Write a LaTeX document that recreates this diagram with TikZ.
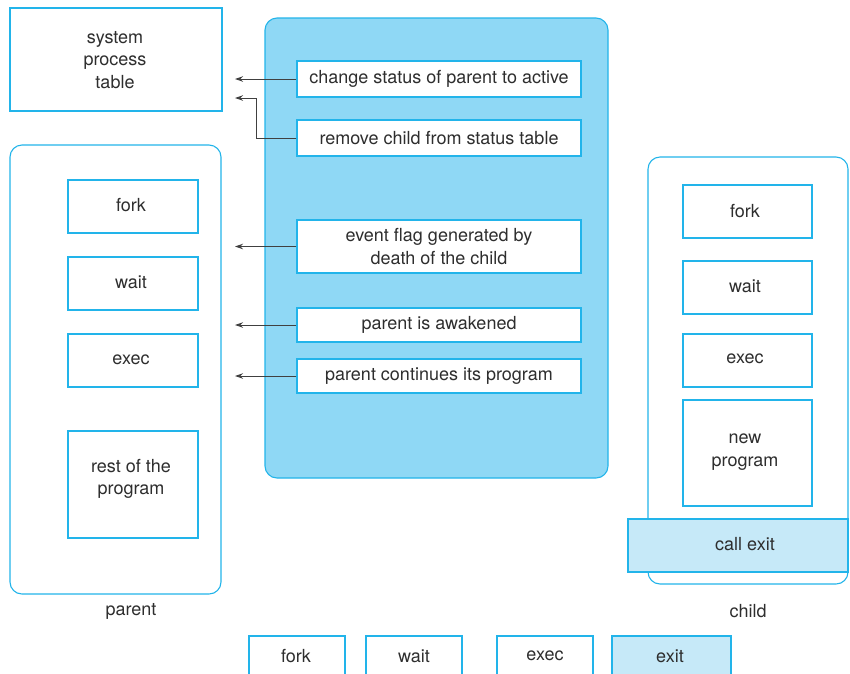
\documentclass[tikz,border=0pt]{standalone}
\usepackage{fontspec}
\setmainfont{TeX Gyre Heros}
\usepackage{xcolor}
\usepackage{tikz}
\usetikzlibrary{positioning,arrows.meta,calc}
\definecolor{edge}{HTML}{22B4EA}
\definecolor{kernel}{HTML}{8FD8F5}
\definecolor{exitfill}{HTML}{C6E9F8}
\definecolor{ink}{HTML}{2E2E2E}
\definecolor{wire}{HTML}{404040}

\begin{document}
\begin{tikzpicture}[
  x=1pt,y=-1pt,
  font=\fontsize{18}{22.5}\selectfont,
  text=ink,
  box/.style={draw=edge,fill=white,line width=1.1pt,align=center,inner sep=0pt},
  hold/.style={draw=edge,fill=white,line width=1.1pt,rounded corners=12pt,inner sep=0pt},
  sys/.style={box,fill=exitfill},
  a/.style={-{Stealth[length=8pt,width=5.5pt]},line width=1pt,wire}
]
\useasboundingbox (0,0) rectangle (850,673);

% system table and kernel panel
\node[box,minimum width=212,minimum height=103] (spt) at (116,59.5) {};
\node[align=center] at (115,60) {system\\process\\table};
\node[hold,fill=kernel,minimum width=343,minimum height=460] (kern) at (436.5,248) {};

\node[box,minimum width=284,minimum height=36] (chg) at (439,79) {change status of parent to active};
\node[box,minimum width=284,minimum height=36] (rm) at (439,138) {remove child from status table};
\node[box,minimum width=284,minimum height=53] (ev) at (439,246.5) {event flag generated by\\death of the child};
\node[box,minimum width=284,minimum height=34] (awk) at (439,325) {parent is awakened};
\node[box,minimum width=284,minimum height=34] (cont) at (439,376) {parent continues its program};

% parent process
\node[hold,minimum width=211,minimum height=449] (par) at (115.5,369.5) {};
\node[box,minimum width=130,minimum height=53] (pfork) at (133,206.5) {};
\node[box,minimum width=130,minimum height=53] (pwait) at (133,283.5) {};
\node[box,minimum width=130,minimum height=53] (pexec) at (133,360.5) {};
\node[box,minimum width=130,minimum height=107] (prest) at (133,484.5) {};
\node at (131,205.5) {fork};
\node at (131,282.5) {wait};
\node at (131,360) {exec};
\node[align=center] at (131,479) {rest of the\\program};
\node (plbl) at (131,611) {parent};

% child process
\node[hold,minimum width=200,minimum height=427] (chd) at (748,370.5) {};
\node[box,minimum width=129,minimum height=53] (cfork) at (747.5,211.5) {};
\node[box,minimum width=129,minimum height=53] (cwait) at (747.5,287.5) {};
\node[box,minimum width=129,minimum height=53] (cexec) at (747.5,360.5) {};
\node[box,minimum width=129,minimum height=106] (cnew) at (747.5,453) {};
\node at (745,211) {fork};
\node at (745,286) {wait};
\node at (745,359) {exec};
\node[align=center] at (745,452) {new\\program};
\node[sys,minimum width=220,minimum height=53] (cexit) at (738,545.5) {};
\node at (745,544) {call exit};
\node (clbl) at (748,611) {child};

% arrows to parent / table
\coordinate (tip) at (235,0);
\coordinate (t2) at (235,98);
\draw[a] (chg.west) -- (chg.west -| tip);
\draw[a] (rm.west) -- ++(-40,0) |- (t2);
\draw[a] (ev.west) -- (ev.west -| tip);
\draw[a] (awk.west) -- (awk.west -| tip);
\draw[a] (cont.west) -- (cont.west -| tip);

% system calls legend
\begin{scope}
\clip (0,0) rectangle (850,673);
\node[box,minimum width=96,minimum height=60] (lfork) at (297,666) {};
\node[box,minimum width=96,minimum height=60] (lwait) at (414,666) {};
\node[box,minimum width=96,minimum height=60] (lexec) at (545,666) {};
\node[sys,minimum width=119,minimum height=60] (lexit) at (671.5,666) {};
\end{scope}
\node at (296,656) {fork};
\node at (414,656) {wait};
\node at (545,656) {exec};
\node at (670,656) {exit};
\end{tikzpicture}
\end{document}
